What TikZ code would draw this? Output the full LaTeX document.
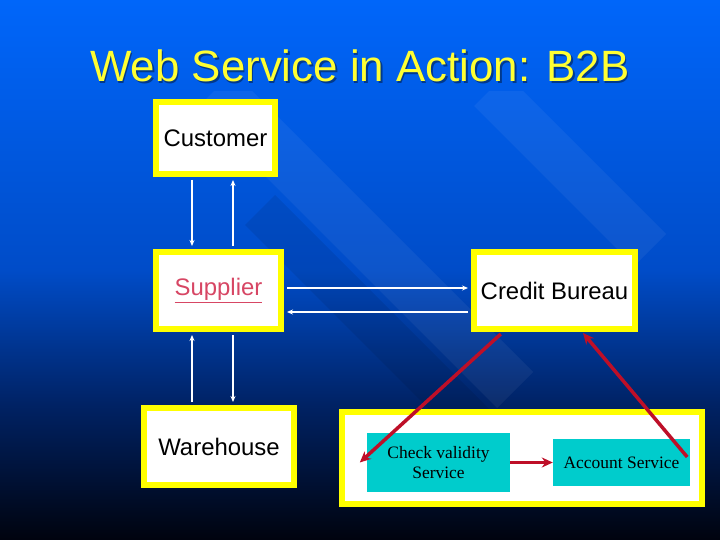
\documentclass[tikz,border=0pt]{standalone}
\usepackage{fontspec}
\setmainfont{Liberation Sans}
\newfontfamily\svcfont{Liberation Serif}
\usetikzlibrary{arrows.meta, positioning, calc}

\definecolor{colBgTop}{RGB}{0, 102, 250}
\definecolor{colBgMid}{RGB}{0, 76, 200}
\definecolor{colBgLow}{RGB}{0, 34, 100}
\definecolor{colBgBot}{RGB}{0, 3, 14}
\definecolor{colTitle}{RGB}{255, 255, 51}
\definecolor{colFrame}{RGB}{255, 255, 0}
\definecolor{colSvc}{RGB}{0, 204, 204}
\definecolor{colLink}{RGB}{215, 70, 100}
\definecolor{colRed}{RGB}{190, 15, 40}

\pgfdeclareverticalshading{slidebg}{100bp}{color(0bp)=(colBgBot); color(25bp)=(colBgBot); color(37.5bp)=(colBgLow); color(50bp)=(colBgMid); color(75bp)=(colBgTop); color(100bp)=(colBgTop)}

\begin{document}
\begin{tikzpicture}[x=1bp, y=-1bp,
    frame/.style={draw=colFrame, line width=6bp, fill=white, inner sep=0pt,
        font=\fontsize{24}{28}\selectfont},
    svcbox/.style={fill=colSvc, inner sep=0pt, align=center,
        font=\svcfont\fontsize{17.5}{21}\selectfont},
    wlink/.style={draw=white, line width=1.4bp, -{Stealth[length=6bp,width=5bp]},
        shorten >=3bp, shorten <=3bp},
    rlink/.style={draw=colRed, line width=3.5bp, -{Stealth[length=11bp,width=10bp]}}]

    % --- Hintergrund ---
    \useasboundingbox (0,0) rectangle (720,540);
    \shade[shading=slidebg] (0,0) rectangle (720,540);
    \begin{scope}
        \clip (0,92) rectangle (720,540);
        \fill[white, opacity=0.05] (197,108) -- (233,72) -- (533,372) -- (497,408) -- cycle;
        \fill[white, opacity=0.05] (474,106) -- (506,74) -- (666,234) -- (634,266) -- cycle;
        \fill[black, opacity=0.08] (245,225) -- (275,195) -- (490,410) -- (460,440) -- cycle;
    \end{scope}

    % --- Titel ---
    \node[anchor=base, text=black, opacity=0.4, font=\fontsize{44}{50}\selectfont]
        (titleShadow) at (361.5,83.5) {Web Service in Action: B2B};
    \node[anchor=base, text=colTitle, font=\fontsize{44}{50}\selectfont]
        (title) at (360,82) {Web Service in Action: B2B};

    % --- Partner ---
    \node[frame, minimum width=119bp, minimum height=72bp] (cust) at (215.5,138) {Customer};
    \node[frame, minimum width=125bp, minimum height=77bp] (supp) at (218.5,290.5)
        {\textcolor{colLink}{\underline{Supplier}}};
    \node[frame, minimum width=161bp, minimum height=77bp] (cred) at (554.5,290.5) {Credit Bureau};
    \node[frame, minimum width=150bp, minimum height=77bp] (ware) at (219,446.5) {Warehouse};

    % --- Dienste ---
    \node[frame, minimum width=360bp, minimum height=92bp] (svcs) at (522,458) {};
    \node[svcbox, minimum width=143bp, minimum height=59bp] (chk) at (438.5,462.5)
        {Check validity\\Service};
    \node[svcbox, minimum width=137bp, minimum height=47bp] (acct) at (621.5,462.5)
        {Account Service};

    % Spalten und Zeilen der weissen Pfeile
    \coordinate (colL) at (192,0);
    \coordinate (colR) at (233,0);
    \coordinate (rowT) at (0,288);
    \coordinate (rowB) at (0,312);

    \draw[wlink] (cust.south -| colL) -- (supp.north -| colL);
    \draw[wlink] (supp.north -| colR) -- (cust.south -| colR);
    \draw[wlink] (ware.north -| colL) -- (supp.south -| colL);
    \draw[wlink] (supp.south -| colR) -- (ware.north -| colR);
    \draw[wlink] (supp.east |- rowT) -- (cred.west |- rowT);
    \draw[wlink] (cred.west |- rowB) -- (supp.east |- rowB);

    % --- Rote Pfeile ---
    \draw[rlink, shorten <=3bp] ([xshift=-51.5bp]cred.south) -- ([xshift=-7bp]chk.west);
    \draw[rlink] (chk.east) -- (acct.west);
    \draw[rlink] ([xshift=-3bp, yshift=5.5bp]acct.east) -- ([xshift=28.5bp, yshift=-1bp]cred.south);

\end{tikzpicture}
\end{document}
